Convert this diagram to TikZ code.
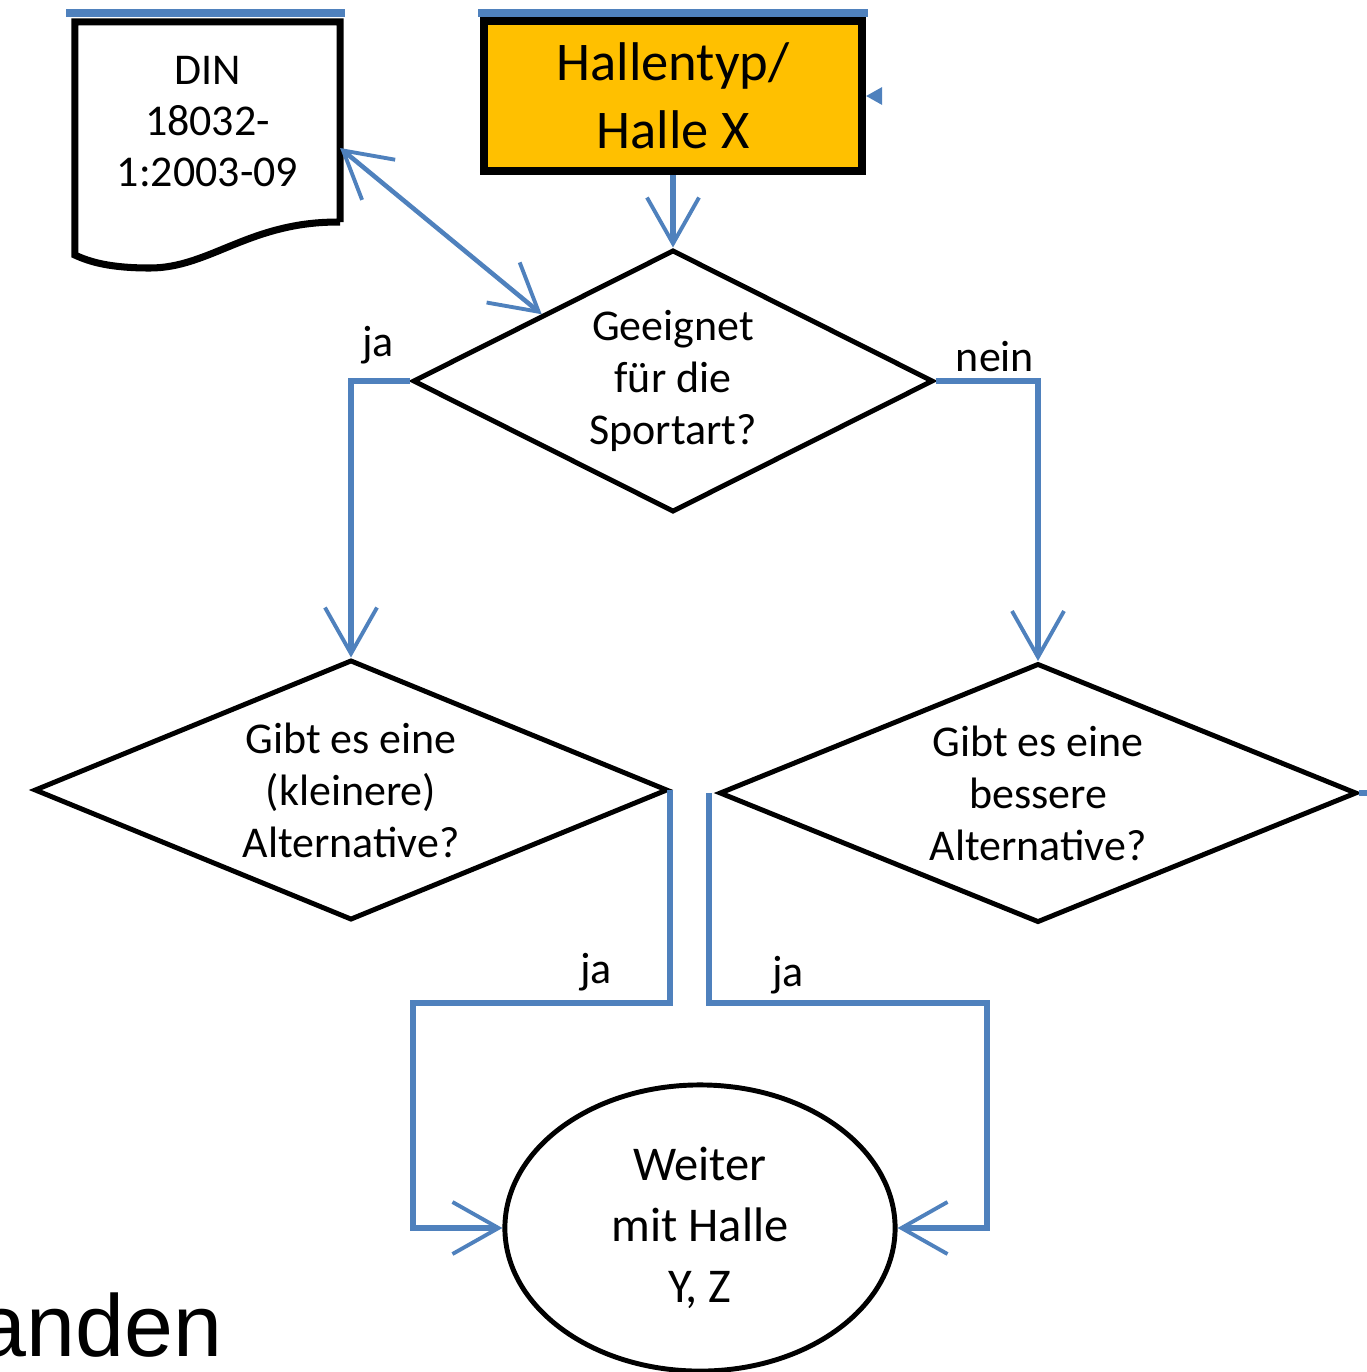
\documentclass[tikz,border=0pt]{standalone}
\usepackage{fontspec}
\setmainfont{Carlito}
\newfontfamily\arialfont{Liberation Sans}
\usepackage{tikz}
\usetikzlibrary{arrows.meta, shapes.geometric, calc, positioning}

\definecolor{lineblue}{RGB}{79,129,189}
\definecolor{boxorange}{RGB}{255,192,0}

\tikzset{
  barb/.tip={Straight Barb[length=4.6mm, width=5.2mm, line width=1.1pt]},
  conn/.style={draw=lineblue, line width=1.7pt, -barb},
  hallbox/.style={draw, line width=2.3pt, fill=boxorange, minimum width=3.78cm, minimum height=1.5cm,
    inner sep=0, align=center, font=\fontsize{15.5pt}{19.3pt}\selectfont},
  docbox/.style={minimum width=2.65cm, minimum height=2cm, inner sep=0, outer sep=0,
    align=center, font=\fontsize{12.5pt}{14.5pt}\selectfont},
  dia/.style={diamond, draw, line width=1.4pt, inner sep=0, align=center,
    font=\fontsize{12.5pt}{14.8pt}\selectfont},
  endell/.style={ellipse, draw, line width=1.4pt, minimum width=3.9cm, minimum height=2.86cm,
    inner sep=0, align=center, font=\fontsize{13.8pt}{17.4pt}\selectfont},
  lbl/.style={inner sep=0, font=\fontsize{12.5pt}{15pt}\selectfont}
}

\begin{document}
\begin{tikzpicture}[x=0.01cm, y=-0.01cm]
    \useasboundingbox (0,0) rectangle (1367,1372);

    \draw[lineblue, line width=2pt] (66,13) -- (345,13) (478,13) -- (868,13);

    \node[hallbox] (hx) at (673,96) {Hallentyp/\\Halle X};
    \node[docbox] (din) at (207.5,122) {DIN\\18032-\\1:2003-09};
    \draw[line width=2pt]
    (din.south east) -- (din.north east) -- (din.north west) -- ($(din.south west)+(0,33)$)
    .. controls (90,262) and (110,268) .. (150,268)
    .. controls (210,268) and (250,221) .. (din.south east);

    \node[dia, aspect=2, minimum width=5.2cm, minimum height=2.62cm] (d1) at (673,381) {Geeignet\\für die\\Sportart?};
    \node[dia, aspect=2.4, minimum width=6.33cm, minimum height=2.6cm] (d2) at (351,790) {Gibt es eine\\(kleinere)\\Alternative?};
    \node[dia, aspect=2.4, minimum width=6.37cm, minimum height=2.59cm] (d3) at (1038,793) {Gibt es eine\\bessere\\Alternative?};
    \node[endell] (wz) at (700,1228) {Weiter\\mit Halle\\Y, Z};

    \node[lbl] (ja1) at (378,345) {ja};
    \node[lbl] (nein) at (995,357) {nein};
    \node[lbl] (ja2) at (596,972) {ja};
    \node[lbl] (ja3) at (788,975) {ja};

    \coordinate (c2) at (413,1003);
    \coordinate (c3) at (987,1003);

    \draw[conn] (hx.south) -- (d1.north);
    \draw[conn, line width=1.3pt, barb-barb] ($(din.north east)!0.63!(din.south east)$) -- (d1.north west);
    \draw[conn] (d1.west) -| (d2.north);
    \draw[conn] (d1.east) -| (d3.north);
    \draw[conn] (d2.east) |- (c2) |- (wz.west);
    \draw[conn] ([xshift=-0.08cm]d3.west) |- (c3) |- (wz.east);

    \fill[lineblue] (hx.east) -- ++(16,-9) -- ++(0,18) -- cycle;
    \draw[lineblue, line width=1.7pt] (d3.east) -- ++(8,0);

    \node[anchor=base east, inner sep=0, font=\arialfont\fontsize{25pt}{30pt}\selectfont] (vh) at (223,1356) {anden};
\end{tikzpicture}
\end{document}
